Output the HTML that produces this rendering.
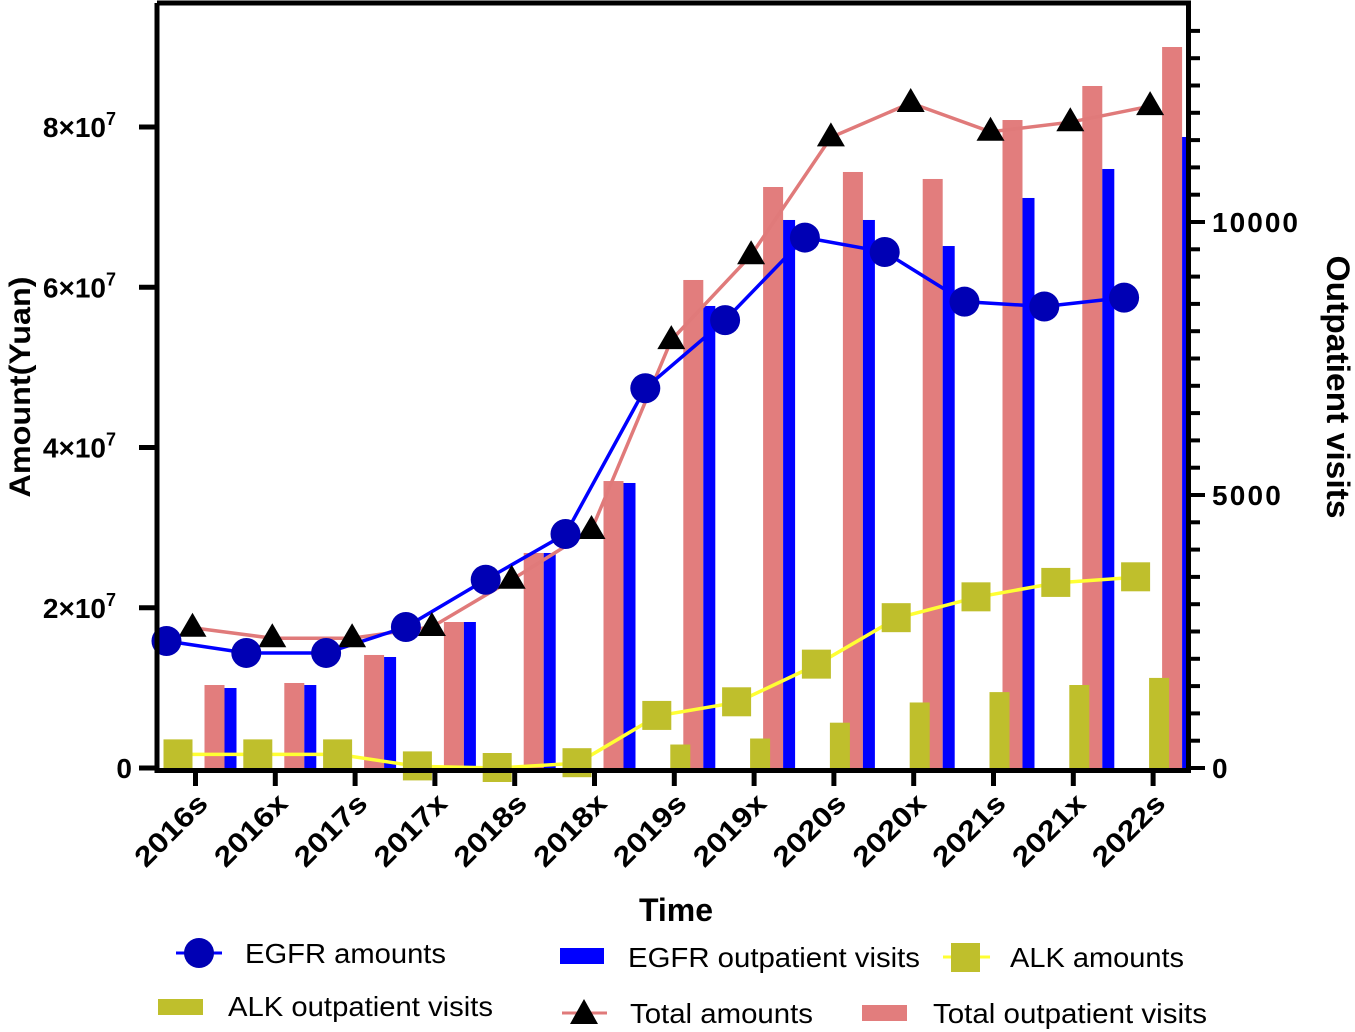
<!DOCTYPE html>
<html><head><meta charset="utf-8"><style>
body{margin:0;background:#fff;}
svg{display:block;font-family:"Liberation Sans",Arial,sans-serif;}
.tl{font-weight:bold;font-size:28px;}
.lg{font-size:28px;}
</style></head><body>
<svg id="chart" width="1355" height="1032" viewBox="0 0 1355 1032">
<g id="bars"></g>
<g id="lines"></g>
<g id="axes"></g>
<text x="676" y="921" text-anchor="middle" font-weight="bold" font-size="32">Time</text>
<text transform="translate(30,387) rotate(-90)" text-anchor="middle" font-weight="bold" font-size="30" textLength="221" lengthAdjust="spacingAndGlyphs">Amount(Yuan)</text>
<text transform="translate(1327,387) rotate(90)" text-anchor="middle" font-weight="bold" font-size="32" textLength="263" lengthAdjust="spacingAndGlyphs">Outpatient visits</text>
<g>
 <g><line x1="176" y1="953" x2="222" y2="953" stroke="#0000ff" stroke-width="3"/><circle cx="199" cy="953" r="15" fill="#0000b4"/><text class="lg" x="245" y="963" textLength="201" lengthAdjust="spacingAndGlyphs">EGFR amounts</text></g>
 <g><rect x="560" y="948" width="44" height="16" fill="#0000ff"/><text class="lg" x="628" y="967" textLength="292" lengthAdjust="spacingAndGlyphs">EGFR outpatient visits</text></g>
 <g><line x1="943" y1="957" x2="990" y2="957" stroke="#ffff33" stroke-width="3"/><rect x="951" y="943" width="29" height="29" fill="#bfbf2c"/><text class="lg" x="1010" y="967" textLength="174" lengthAdjust="spacingAndGlyphs">ALK amounts</text></g>
 <g><rect x="158" y="999" width="45" height="16" fill="#bfbf2c"/><text class="lg" x="228" y="1016" textLength="265" lengthAdjust="spacingAndGlyphs">ALK outpatient visits</text></g>
 <g><line x1="562" y1="1013" x2="607" y2="1013" stroke="#e07a7a" stroke-width="3"/><polygon points="584,999 598,1024 570,1024" fill="#000"/><text class="lg" x="630" y="1023" textLength="183" lengthAdjust="spacingAndGlyphs">Total amounts</text></g>
 <g><rect x="862" y="1005" width="45" height="16" fill="#e27d7d"/><text class="lg" x="933" y="1023" textLength="274" lengthAdjust="spacingAndGlyphs">Total outpatient visits</text></g>
</g>
</svg>
<script>
const categories=["2016s","2016x","2017s","2017x","2018s","2018x","2019s","2019x","2020s","2020x","2021s","2021x","2022s"];
const egfrAmounts=[1.585e7,1.436e7,1.436e7,1.76e7,2.35e7,2.92e7,4.74e7,5.59e7,6.62e7,6.44e7,5.82e7,5.76e7,5.87e7];
const totalAmounts=[1.75e7,1.62e7,1.62e7,1.76e7,2.35e7,2.97e7,5.34e7,6.4e7,7.87e7,8.3e7,7.94e7,8.06e7,8.26e7];
const alkAmounts=[0.17e7,0.17e7,0.17e7,0.02e7,0,0.06e7,0.65e7,0.82e7,1.29e7,1.87e7,2.13e7,2.31e7,2.38e7];
const totalVisits=[1520,1557,2070,2674,3938,5256,8938,10641,10916,10788,11868,12491,13205];
const egfrVisits=[1465,1520,2033,2674,3938,5220,8462,10037,10037,9560,10440,10971,11557];
const alkVisits=[0,0,0,0,0,0,430,540,830,1200,1390,1520,1650];
const leftTicks=[0,2e7,4e7,6e7,8e7];
const rightTicks=[0,5000,10000];
const NS="http://www.w3.org/2000/svg";
const y0=768;
function xT(i){return 195.5+79.8*i;}
function yL(v){return y0-v/2e7*160.25;}
function yR(n){return y0-n*0.0546;}
function mk(tag,attrs,parent){const e=document.createElementNS(NS,tag);for(const k in attrs)e.setAttribute(k,attrs[k]);parent.appendChild(e);return e;}
const bars=document.getElementById('bars'),lines=document.getElementById('lines'),axes=document.getElementById('axes');
categories.forEach((c,i)=>{
  const t=xT(i);
  let r=mk('rect',{x:t+9,y:yR(totalVisits[i]),width:20,height:y0-yR(totalVisits[i]),fill:'#e27d7d'},bars);
  
  
  const bw=Math.min(12,1186-(t+29));
  r=mk('rect',{x:t+29,y:yR(egfrVisits[i]),width:Math.max(bw,0),height:y0-yR(egfrVisits[i]),fill:'#0000ff'},bars);
  
  
  r=mk('rect',{x:t-4,y:yR(alkVisits[i]),width:20,height:y0-yR(alkVisits[i]),fill:'#bfbf2c'},bars);
  
  
});
function poly(vals,dx,color,name){
  const p=mk('polyline',{points:vals.map((v,i)=>(xT(i)+dx)+','+yL(v)).join(' '),fill:'none',stroke:color,'stroke-width':3.5},lines);
  
  
}
poly(totalAmounts,-3,'#e07a7a','total-amounts-line');
poly(egfrAmounts,-29,'#0000ff','egfr-amounts-line');
poly(alkAmounts,-17,'#ffff33','alk-amounts-line');
categories.forEach((c,i)=>{
  const t=xT(i);
  let y=yL(totalAmounts[i]);
  let e=mk('polygon',{points:`${t-3},${y-15} ${t+11},${y+9} ${t-17},${y+9}`,fill:'#000'},lines);
  
  
  y=yL(egfrAmounts[i]);
  e=mk('circle',{cx:t-29,cy:y,r:15,fill:'#0000b4'},lines);
  
  
  y=yL(alkAmounts[i]);
  e=mk('rect',{x:t-32,y:y-15,width:29,height:29,fill:'#bfbf2c'},lines);
  
  
  e=mk('line',{x1:t,y1:y0,x2:t,y2:786,stroke:'#000','stroke-width':5},axes);
  
  
  e=mk('text',{transform:`translate(${t+14},${805}) rotate(-45)`,'text-anchor':'end',class:'tl',textLength:90,lengthAdjust:'spacingAndGlyphs'},axes);
  e.textContent=c;
  
  
});
let a=mk('path',{d:'M157,3 V770.5 H1188.5 V3 H157',fill:'none',stroke:'#000','stroke-width':5},axes);


leftTicks.forEach((v,i)=>{
  const y=yL(v);
  let e=mk('line',{x1:139,y1:y,x2:157,y2:y,stroke:'#000','stroke-width':5},axes);
  
  
  e=mk('text',{x:i?116:132,y:y+10,'text-anchor':'end',class:'tl'},axes);
  
  
  if(i){e.textContent=(v/1e7)+'×10';const s=mk('tspan',{dy:-12,'font-size':18},e);s.textContent='7';}
  else e.textContent='0';
});
for(let n=0;n<=13500;n+=500){
  const y=yR(n);const maj=n%5000===0;
  let e=mk('line',{x1:1188,y1:y,x2:maj?1205:1200,y2:y,stroke:'#000','stroke-width':4},axes);
  
  
}
rightTicks.forEach(n=>{
  const e=mk('text',{x:1212,y:yR(n)+10,class:'tl'},axes);
  e.textContent=String(n);
  if(n>0)e.setAttribute('textLength',String(String(n).length*17.2));
  
  
});
</script>
</body></html>
